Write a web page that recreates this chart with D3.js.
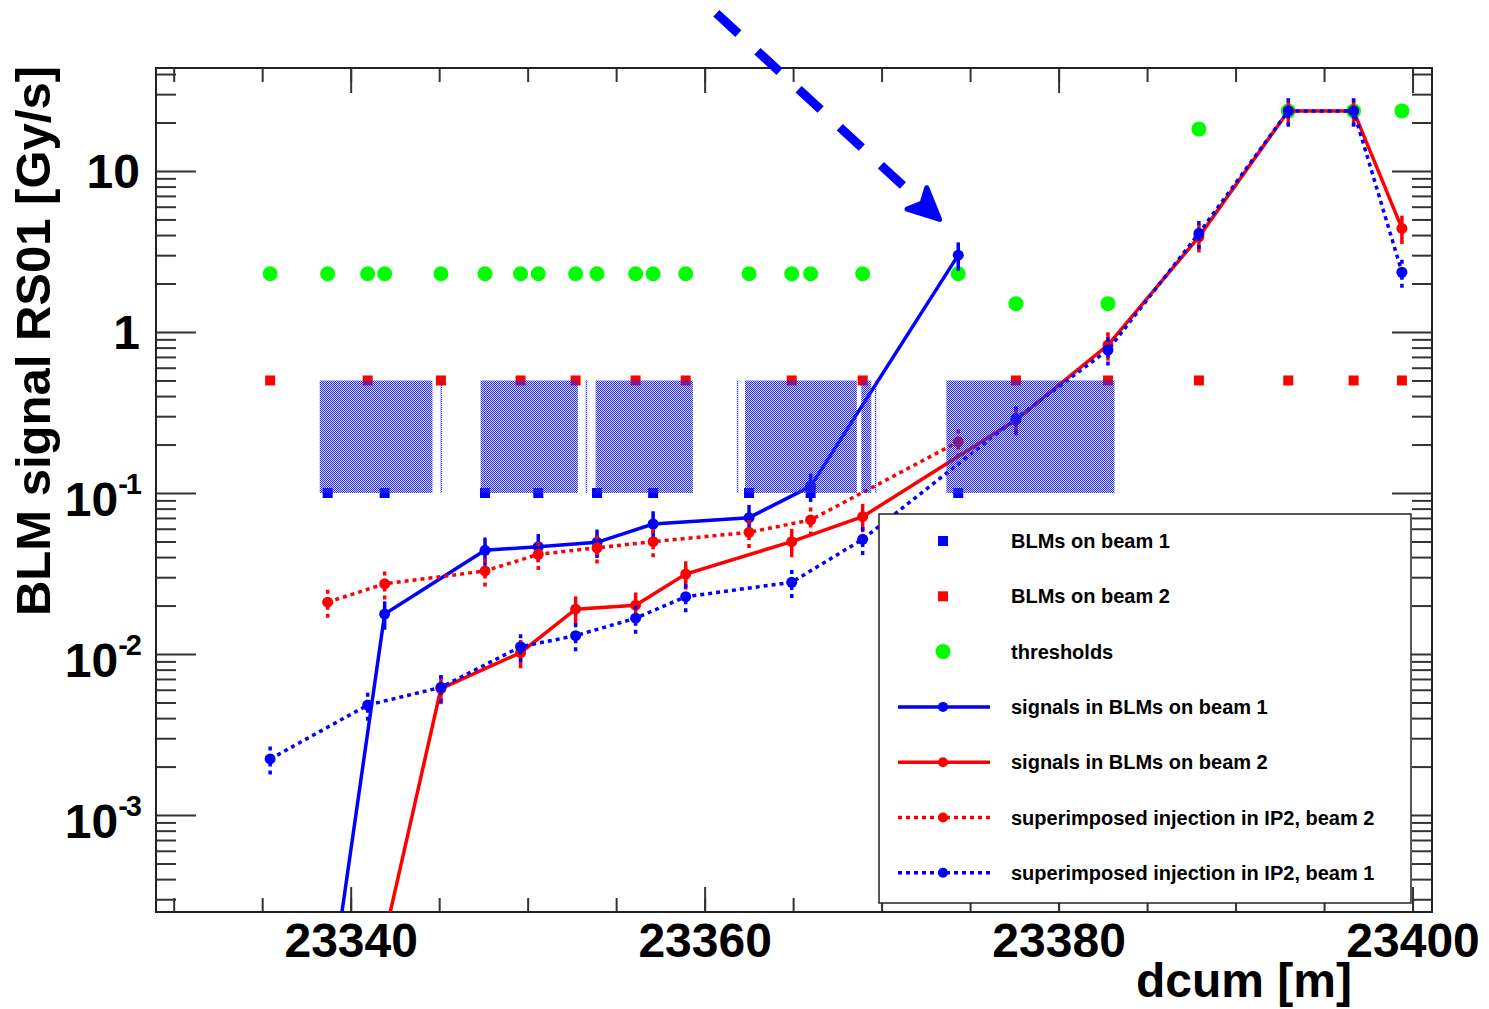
<!DOCTYPE html>
<html>
<head>
<meta charset="utf-8">
<script src="https://cdn.jsdelivr.net/npm/d3@7"></script>
<style>
  body { margin: 0; background: #fff; }
  text { font-family: "Liberation Sans", Arial, sans-serif; font-weight: bold; fill: #000; }
</style>
</head>
<body>
<div id="chart"></div>
<script>
var width = 1489, height = 1009;

// BLM positions along the ring (dcum, m)
var beam1Pos = [23338.70, 23341.92, 23347.59, 23350.60, 23353.92, 23357.09, 23362.51, 23365.99, 23374.33];
var beam2Pos = [23335.45, 23340.96, 23345.10, 23349.60, 23352.71, 23356.10, 23358.93, 23364.92,
                23368.93, 23377.59, 23382.79, 23387.93, 23392.98, 23396.67, 23399.40];
var beam1Level = 0.1, beam2Level = 0.5;   // where the BLM squares sit

// thresholds at every monitor
var thrPos = [23335.45, 23338.70, 23340.96, 23341.92, 23345.10, 23347.59, 23349.60, 23350.60,
              23352.71, 23353.92, 23356.10, 23357.09, 23358.93, 23362.51, 23364.92, 23365.99,
              23368.93, 23374.33, 23377.59, 23382.79, 23387.93, 23392.98, 23396.67, 23399.40];
var thrVal = [2.3, 2.3, 2.3, 2.3, 2.3, 2.3, 2.3, 2.3, 2.3, 2.3, 2.3, 2.3,
              2.3, 2.3, 2.3, 2.3, 2.3, 2.3, 1.5, 1.5, 18.2, 23.6, 23.6, 23.6];

// signals (Gy/s)
var sigBeam1X = beam1Pos;
var sigBeam1 = [6e-5, 0.0177, 0.0441, 0.0464, 0.0494, 0.0642, 0.0703, 0.110, 3.0];
var sigBeam2X = beam2Pos.slice(1);
var sigBeam2 = [6e-5, 0.0061, 0.0102, 0.0190, 0.0201, 0.0314, 0.0499, 0.0713,
                0.284, 0.83, 3.9, 23.6, 23.6, 4.4];
var injBeam2X = beam1Pos;
var injBeam2 = [0.0210, 0.0273, 0.0328, 0.0416, 0.0457, 0.0499, 0.0570, 0.0680, 0.208];
var injBeam1X = beam2Pos;
var injBeam1 = [0.00223, 0.00482, 0.00621, 0.0111, 0.0130, 0.0167, 0.0227, 0.0279,
                0.0516, 0.29, 0.773, 4.1, 23.6, 23.6, 2.35];
var relErr = 0.2;

// magnet outlines (dcum start / end), drawn between 0.1 and 0.5
var magStart = [23338.25, 23345.08, 23347.34, 23353.28, 23353.84, 23361.82, 23362.28, 23368.85, 23369.62, 23373.66];
var magEnd   = [23344.62, 23345.16, 23352.84, 23353.36, 23359.34, 23361.90, 23368.60, 23369.42, 23369.70, 23383.16];
var magLow = 0.1, magHigh = 0.5;

// annotation arrow (dcum, Gy/s)
var arrowFrom = [23360.66, 95.4], arrowTo = [23373.28, 5.0];

var xTicksMajor = [23340, 23360, 23380, 23400];
var xTicksMinor = d3.range(23330, 23401, 5);
var yTicksMajor = [1e-3, 1e-2, 1e-1, 1, 10];

var pLeft = 156, pRight = 1432, pTop = 68, pBottom = 912;

var svg = d3.select("#chart").append("svg")
    .attr("width", width).attr("height", height);

var x = d3.scaleLinear().domain([23329, 23401.1]).range([pLeft, pRight]);
var y = d3.scaleLog().domain([2.5e-4, 43.6]).range([pBottom, pTop]);

var defs = svg.append("defs");
defs.append("clipPath").attr("id", "plotclip")
    .append("rect").attr("x", pLeft).attr("y", pTop)
    .attr("width", pRight - pLeft).attr("height", pBottom - pTop);

var pat = defs.append("pattern").attr("id", "hatch")
    .attr("width", 2).attr("height", 2).attr("patternUnits", "userSpaceOnUse");
pat.append("rect").attr("width", 2).attr("height", 2).attr("fill", "rgba(40,40,220,0.2)");
pat.append("rect").attr("x", 0).attr("y", 0).attr("width", 1).attr("height", 1).attr("fill", "#2e2ee2");
pat.append("rect").attr("x", 1).attr("y", 1).attr("width", 1).attr("height", 1).attr("fill", "#2e2ee2");

// minor y ticks 2..9 per decade
var yTicksMinor = [];
for (var e = -4; e <= 1; e++) {
  for (var m = 2; m <= 9; m++) {
    var v = m * Math.pow(10, e);
    if (v >= 2.5e-4 && v <= 43.6) yTicksMinor.push(v);
  }
}

function styleAxis(g) {
  g.select(".domain").remove();
  g.selectAll("line").attr("stroke", "#333").attr("stroke-width", 2);
}

// x axes
svg.append("g").attr("transform", "translate(0," + pBottom + ")")
   .call(d3.axisBottom(x).tickValues(xTicksMinor).tickSizeInner(-14).tickSizeOuter(0).tickFormat(""))
   .call(styleAxis);
var xb = svg.append("g").attr("transform", "translate(0," + pBottom + ")")
   .call(d3.axisBottom(x).tickValues(xTicksMajor).tickSizeInner(-25).tickSizeOuter(0)
         .tickPadding(11).tickFormat(d3.format("d")))
   .call(styleAxis);
xb.selectAll("text").attr("font-size", 48).attr("font-family", "'Liberation Sans', Arial, sans-serif")
  .attr("font-weight", "bold").attr("fill", "#000");
svg.append("g").attr("transform", "translate(0," + pTop + ")")
   .call(d3.axisTop(x).tickValues(xTicksMinor).tickSizeInner(-14).tickSizeOuter(0).tickFormat(""))
   .call(styleAxis);
svg.append("g").attr("transform", "translate(0," + pTop + ")")
   .call(d3.axisTop(x).tickValues(xTicksMajor).tickSizeInner(-25).tickSizeOuter(0).tickFormat(""))
   .call(styleAxis);

// y axes
svg.append("g").attr("transform", "translate(" + pLeft + ",0)")
   .call(d3.axisLeft(y).tickValues(yTicksMinor).tickSizeInner(-20).tickSizeOuter(0).tickFormat(""))
   .call(styleAxis);
var yl = svg.append("g").attr("transform", "translate(" + pLeft + ",0)")
   .call(d3.axisLeft(y).tickValues(yTicksMajor).tickSizeInner(-40).tickSizeOuter(0).tickPadding(16).tickFormat(""))
   .call(styleAxis);
svg.append("g").attr("transform", "translate(" + pRight + ",0)")
   .call(d3.axisRight(y).tickValues(yTicksMinor).tickSizeInner(-20).tickSizeOuter(0).tickFormat(""))
   .call(styleAxis);
svg.append("g").attr("transform", "translate(" + pRight + ",0)")
   .call(d3.axisRight(y).tickValues(yTicksMajor).tickSizeInner(-40).tickSizeOuter(0).tickFormat(""))
   .call(styleAxis);

yl.selectAll(".tick text").each(function(d) {
  var k = Math.round(Math.log10(d));
  var t = d3.select(this).attr("font-size", 48).attr("dy", null)
      .attr("x", -16).attr("y", k < 0 ? 22.5 : 17);
  if (k === 0) t.append("tspan").text("1");
  else if (k === 1) t.append("tspan").text("10");
  else {
    t.append("tspan").text("10");
    t.append("tspan").attr("dy", -22).attr("font-size", 29).attr("letter-spacing", -2).text(String(k));
  }
});

// frame
svg.append("rect").attr("x", pLeft).attr("y", pTop)
   .attr("width", pRight - pLeft).attr("height", pBottom - pTop)
   .attr("fill", "none").attr("stroke", "#222").attr("stroke-width", 2);

var plot = svg.append("g").attr("clip-path", "url(#plotclip)");

// BLM squares
plot.selectAll(".sq2").data(beam2Pos).enter().append("rect")
    .attr("x", function(d) { return x(d) - 5; }).attr("y", y(beam2Level) - 5)
    .attr("width", 10).attr("height", 10).attr("fill", "#ff0000");
plot.selectAll(".sq1").data(beam1Pos).enter().append("rect")
    .attr("x", function(d) { return x(d) - 5; }).attr("y", y(beam1Level) - 5)
    .attr("width", 10).attr("height", 10).attr("fill", "#0000ff");

// thresholds
plot.selectAll(".thr").data(d3.zip(thrPos, thrVal)).enter().append("circle")
    .attr("cx", function(d) { return x(d[0]); }).attr("cy", function(d) { return y(d[1]); })
    .attr("r", 7.5).attr("fill", "#00ff00");

var line = d3.line().x(function(d) { return x(d[0]); }).y(function(d) { return y(d[1]); });

function drawSeries(xs, vals, color, dash) {
  var pts = d3.zip(xs, vals);
  var g = plot.append("g");
  g.append("path").datum(pts).attr("d", line)
   .attr("fill", "none").attr("stroke", color).attr("stroke-width", 3.5)
   .attr("stroke-dasharray", dash);
  g.selectAll(".err").data(pts).enter().append("line")
   .attr("x1", function(d) { return x(d[0]); }).attr("x2", function(d) { return x(d[0]); })
   .attr("y1", function(d) { return y(d[1] * (1 - relErr)); })
   .attr("y2", function(d) { return y(d[1] * (1 + relErr)); })
   .attr("stroke", color).attr("stroke-width", 3.5).attr("stroke-dasharray", dash);
  g.selectAll(".pt").data(pts).enter().append("circle")
   .attr("cx", function(d) { return x(d[0]); }).attr("cy", function(d) { return y(d[1]); })
   .attr("r", 5.5).attr("fill", color);
}

drawSeries(sigBeam1X, sigBeam1, "#0000ff", null);
drawSeries(sigBeam2X, sigBeam2, "#ff0000", null);
drawSeries(injBeam2X, injBeam2, "#ff0000", "4,4");
drawSeries(injBeam1X, injBeam1, "#0000ff", "4,4");

// magnets, drawn over the data with a see-through pattern
plot.selectAll(".mag").data(d3.zip(magStart, magEnd)).enter().append("rect")
    .attr("x", function(d) { return x(d[0]); })
    .attr("width", function(d) { return Math.max(1, x(d[1]) - x(d[0])); })
    .attr("y", y(magHigh)).attr("height", y(magLow) - y(magHigh))
    .attr("fill", "url(#hatch)");

// legend
var lg = svg.append("g");
lg.append("rect").attr("x", 879).attr("y", 514).attr("width", 532).attr("height", 389)
  .attr("fill", "#fff").attr("stroke", "#222").attr("stroke-width", 1.5);
var legendItems = [
  { label: "BLMs on beam 1", kind: "square", color: "#0000ff" },
  { label: "BLMs on beam 2", kind: "square", color: "#ff0000" },
  { label: "thresholds", kind: "circle", color: "#00ff00" },
  { label: "signals in BLMs on beam 1", kind: "line", color: "#0000ff", dash: null },
  { label: "signals in BLMs on beam 2", kind: "line", color: "#ff0000", dash: null },
  { label: "superimposed injection in IP2, beam 2", kind: "line", color: "#ff0000", dash: "4,4" },
  { label: "superimposed injection in IP2, beam 1", kind: "line", color: "#0000ff", dash: "4,4" }
];
legendItems.forEach(function(it, i) {
  var cy = 541 + i * 55.3;
  if (it.kind === "square") {
    lg.append("rect").attr("x", 938).attr("y", cy - 5).attr("width", 10).attr("height", 10).attr("fill", it.color);
  } else if (it.kind === "circle") {
    lg.append("circle").attr("cx", 943).attr("cy", cy).attr("r", 7.5).attr("fill", it.color);
  } else {
    lg.append("line").attr("x1", 898).attr("x2", 990).attr("y1", cy).attr("y2", cy)
      .attr("stroke", it.color).attr("stroke-width", 3.5).attr("stroke-dasharray", it.dash);
    lg.append("circle").attr("cx", 943).attr("cy", cy).attr("r", 5).attr("fill", it.color);
  }
  lg.append("text").attr("x", 1011).attr("y", cy + 7).attr("font-size", 20).text(it.label);
});

// arrow annotation
var ax0 = x(arrowFrom[0]), ay0 = y(arrowFrom[1]), ax1 = x(arrowTo[0]), ay1 = y(arrowTo[1]);
var len = Math.hypot(ax1 - ax0, ay1 - ay0), ux = (ax1 - ax0) / len, uy = (ay1 - ay0) / len;
var headLen = 31, headHalf = 14.5;
svg.append("line")
   .attr("x1", ax0).attr("y1", ay0)
   .attr("x2", ax0 + ux * (len - headLen)).attr("y2", ay0 + uy * (len - headLen))
   .attr("stroke", "#0000ff").attr("stroke-width", 9).attr("stroke-dasharray", "30,26");
var bx = ax1 - ux * headLen, by = ay1 - uy * headLen;
var nx = ax1 - ux * (headLen - 7), ny = ay1 - uy * (headLen - 7);
svg.append("path")
   .attr("d", "M" + ax1 + "," + ay1 +
              "L" + (bx - uy * headHalf) + "," + (by + ux * headHalf) +
              "L" + nx + "," + ny +
              "L" + (bx + uy * headHalf) + "," + (by - ux * headHalf) + "Z")
   .attr("fill", "#0000ff").attr("stroke", "#0000ff").attr("stroke-width", 5).attr("stroke-linejoin", "round");

// axis titles
svg.append("text").attr("x", 1352).attr("y", 997).attr("text-anchor", "end")
   .attr("font-size", 48).text("dcum [m]");
svg.append("text").attr("transform", "translate(50,66) rotate(-90)").attr("text-anchor", "end")
   .attr("font-size", 49).text("BLM signal RS01 [Gy/s]");
</script>
</body>
</html>
